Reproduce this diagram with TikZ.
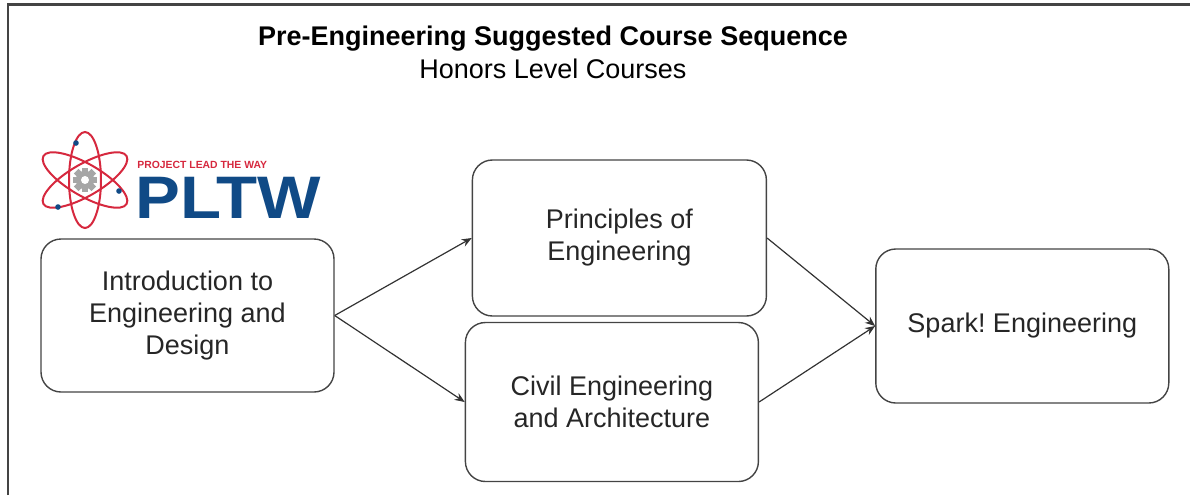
\documentclass[tikz,border=0pt]{standalone}
\usepackage{fontspec}
\setmainfont{Liberation Sans}
\usepackage{xcolor}
\usepackage{tikz}
\usetikzlibrary{arrows.meta,positioning,calc}
\definecolor{pltwred}{RGB}{214,40,62}
\definecolor{pltwblue}{RGB}{16,74,134}
\definecolor{edge}{RGB}{68,68,68}
\frenchspacing

\begin{document}
\begin{tikzpicture}[x=0.5pt, y=-0.5pt, >={Stealth[length=5pt,width=4pt]}]
\tikzstyle{course}=[draw=edge, line width=0.7pt, rounded corners=10pt,
                 minimum width=146.5pt, minimum height=77pt, align=center,
                 font=\fontsize{13.5}{16}\selectfont, text=black!85]
\tikzstyle{link}=[->, line width=0.6pt, draw=black!80]

\useasboundingbox (0,0) rectangle (1190,495);
\draw[edge, line width=1.2pt] (8,495) -- (8,4.5) -- (1190,4.5);

\node[align=center, font=\fontsize{13.5}{16.5}\selectfont] (title) at (553,52)
  {\textbf{Pre-Engineering Suggested Course Sequence}\\Honors Level Courses};

% logo
\coordinate (atom) at (85,180);
\foreach \r in {90,30,150}
  \draw[pltwred, line width=1pt, rotate around={\r:(atom)}]
    (atom) ellipse [x radius=24pt, y radius=8pt];
\foreach \a in {0,45,...,135}
  \fill[gray!70, rotate around={\a:(atom)}]
    ($(atom)+(-1.6pt,-6.2pt)$) rectangle ($(atom)+(1.6pt,6.2pt)$);
\fill[gray!70] (atom) circle (4.6pt);
\fill[white] (atom) circle (2pt);
\foreach \p in {(76,143),(119,191),(58,207)}
  \fill[pltwblue] \p circle (1.4pt);
\node[pltwred, font=\bfseries\fontsize{5.2}{6}\selectfont, anchor=west, inner sep=0]
  (tagline) at (137,165) {PROJECT LEAD THE WAY};
\node[pltwblue, font=\bfseries\fontsize{30}{30}\selectfont, anchor=base west, inner sep=0]
  (pltw) at (135,218) {\scalebox{1.12}[1]{PLTW}};

\node[course, minimum height=76.5pt] (intro) at (187.5,315.5)
  {Introduction to\\Engineering and\\Design};
\node[course, right=68.5pt of intro, yshift=38.75pt, minimum width=147pt, minimum height=78pt]
  (poe) {Principles of\\Engineering};
\node[course, right=65pt of intro, yshift=-43.25pt, minimum height=79.5pt]
  (cea) {Civil Engineering\\and Architecture};
\node[course, right=54pt of poe, yshift=-44pt] (spark) {Spark! Engineering};

\draw[link] (intro.east) -- (poe.west);
\draw[link] (intro.east) -- (cea.west);
\draw[link] (poe.east) -- (spark.west);
\draw[link] (cea.east) -- (spark.west);

\end{tikzpicture}
\end{document}
